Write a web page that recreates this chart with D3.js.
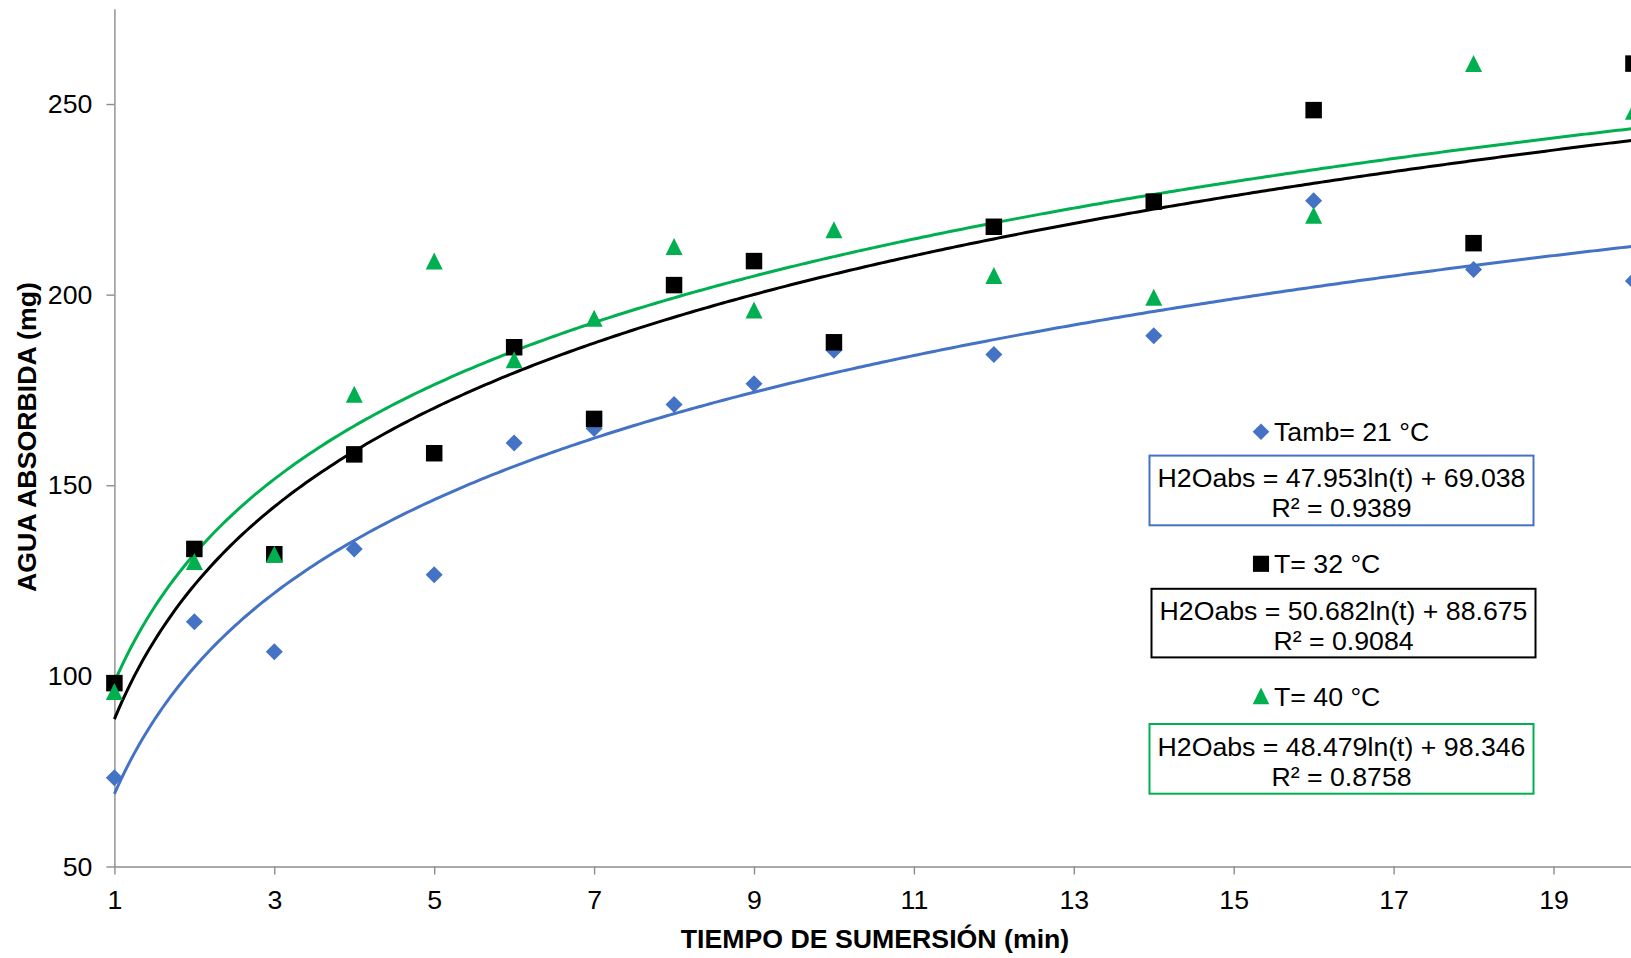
<!DOCTYPE html>
<html>
<head>
<meta charset="utf-8">
<script src="https://cdn.jsdelivr.net/npm/d3@7"></script>
<style>
  body { margin: 0; background: #fff; }
  text { font-family: Arial, "Liberation Sans", sans-serif; fill: #000; }
</style>
</head>
<body>
<script>
// minutes of immersion
var times = [1, 2, 3, 4, 5, 6, 7, 8, 9, 10, 12, 14, 16, 18, 20]
// water absorbed (mg) per temperature
var t21 = [73.3, 114.2, 106.3, 133.3, 126.5, 161.1, 164.9, 171.2, 176.6, 185.4, 184.3, 189.2, 224.6, 206.6, 203.6]
var t32 = [98.1, 133.3, 131.9, 158.1, 158.4, 186.2, 167.4, 202.5, 208.8, 187.5, 217.8, 224.4, 248.4, 213.5, 260.6]
var t40 = [95.9, 130.0, 131.9, 173.9, 208.8, 182.9, 193.8, 212.6, 196.0, 217.0, 205.0, 199.3, 220.8, 260.6, 248.1]

// log trendlines as printed on the chart: a*ln(t) + b
var slopes = [47.953, 50.682, 48.479]
var intercepts = [69.038, 88.675, 98.346]
var r2 = ['0.9389', '0.9084', '0.8758']
var labels = ['Tamb= 21 °C', 'T= 32 °C', 'T= 40 °C']
var colors = ['#4472C4', '#000000', '#00B050']

var xTicks = [1, 3, 5, 7, 9, 11, 13, 15, 17, 19]
var yTicks = [50, 100, 150, 200, 250]

var width = 1631,
    height = 958

var svg = d3.select('body').append('svg')
    .attr('width', width)
    .attr('height', height)

var x = d3.scaleLinear().domain([1, 21]).range([114.4, 114.4 + 20 * 79.95])
var y = d3.scaleLinear().domain([50, 275]).range([866.5, 8.7])

var axisColor = '#8c8c8c'
var fs = 26.7

// axes
var gx = svg.append('g')
    .attr('transform', 'translate(0,' + y(50) + ')')
    .call(d3.axisBottom(x).tickValues(xTicks).tickSize(8).tickSizeOuter(0).tickPadding(16))
var gy = svg.append('g')
    .attr('transform', 'translate(' + x(1) + ',0)')
    .call(d3.axisLeft(y).tickValues(yTicks).tickSize(8).tickSizeOuter(0).tickPadding(14))

;[gx, gy].forEach(g => {
    g.select('.domain').attr('stroke', axisColor).attr('stroke-width', 1.4)
    g.selectAll('.tick line').attr('stroke', axisColor).attr('stroke-width', 1.4)
    g.selectAll('.tick text')
        .attr('font-size', fs)
        .attr('font-family', 'Arial, "Liberation Sans", sans-serif')
        .attr('fill', '#000')
})

// axis titles
svg.append('text')
    .attr('x', 875)
    .attr('y', 948)
    .attr('text-anchor', 'middle')
    .attr('font-size', fs)
    .attr('font-weight', 'bold')
    .text('TIEMPO DE SUMERSIÓN (min)')

svg.append('text')
    .attr('transform', 'translate(36,437) rotate(-90)')
    .attr('text-anchor', 'middle')
    .attr('font-size', fs)
    .attr('font-weight', 'bold')
    .text('AGUA ABSORBIDA (mg)')

// trendlines
var line = d3.line()
    .x(d => x(d[0]))
    .y(d => y(d[1]))

var tSteps = d3.range(1, 20.001, 0.05)
slopes.forEach((a, i) => {
    svg.append('path')
        .datum(tSteps.map(t => [t, a * Math.log(t) + intercepts[i]]))
        .attr('d', line)
        .attr('fill', 'none')
        .attr('stroke', colors[i])
        .attr('stroke-width', 3)
})

// marker shapes (excel style)
var diamond = { draw: (ctx, s) => { var r = s; ctx.moveTo(0, -r); ctx.lineTo(r, 0); ctx.lineTo(0, r); ctx.lineTo(-r, 0); ctx.closePath() } }
var square = { draw: (ctx, s) => { var r = s * 0.97; ctx.rect(-r, -r, 2 * r, 2 * r) } }
var triangle = { draw: (ctx, s) => { var r = s; ctx.moveTo(0, -r); ctx.lineTo(r, r); ctx.lineTo(-r, r); ctx.closePath() } }
var shapes = [diamond, square, triangle]

var series = [t21, t32, t40]
series.forEach((vals, i) => {
    svg.append('g').selectAll('path')
        .data(vals.map((v, j) => [times[j], v]))
        .enter().append('path')
        .attr('transform', d => 'translate(' + x(d[0]) + ',' + y(d[1]) + ')')
        .attr('d', d3.symbol().type(shapes[i]).size(8.5))
        .attr('fill', colors[i])
})

// legend entries + equation boxes
var legendY = [431.7, 563.8, 695.9]
var boxes = [
    { x0: 1149.5, x1: 1533.5, y0: 455.6, y1: 525.3 },
    { x0: 1151.5, x1: 1535.5, y0: 588.8, y1: 657.4 },
    { x0: 1149.5, x1: 1533.5, y0: 724, y1: 793.7 }
]

labels.forEach((lab, i) => {
    svg.append('path')
        .attr('transform', 'translate(1261,' + legendY[i] + ')')
        .attr('d', d3.symbol().type(shapes[i]).size(8.3))
        .attr('fill', colors[i])
    svg.append('text')
        .attr('x', 1274)
        .attr('y', legendY[i] + 9.6)
        .attr('font-size', fs)
        .text(lab)

    var b = boxes[i]
    svg.append('rect')
        .attr('x', b.x0)
        .attr('y', b.y0)
        .attr('width', b.x1 - b.x0)
        .attr('height', b.y1 - b.y0)
        .attr('fill', '#fff')
        .attr('stroke', colors[i])
        .attr('stroke-width', 2)
    var cx = (b.x0 + b.x1) / 2
    svg.append('text')
        .attr('x', cx)
        .attr('y', b.y0 + 31.5)
        .attr('text-anchor', 'middle')
        .attr('font-size', fs)
        .text('H2Oabs = ' + slopes[i].toFixed(3) + 'ln(t) + ' + intercepts[i].toFixed(3))
    svg.append('text')
        .attr('x', cx)
        .attr('y', b.y0 + 61.5)
        .attr('text-anchor', 'middle')
        .attr('font-size', fs)
        .text('R² = ' + r2[i])
})
</script>
</body>
</html>
